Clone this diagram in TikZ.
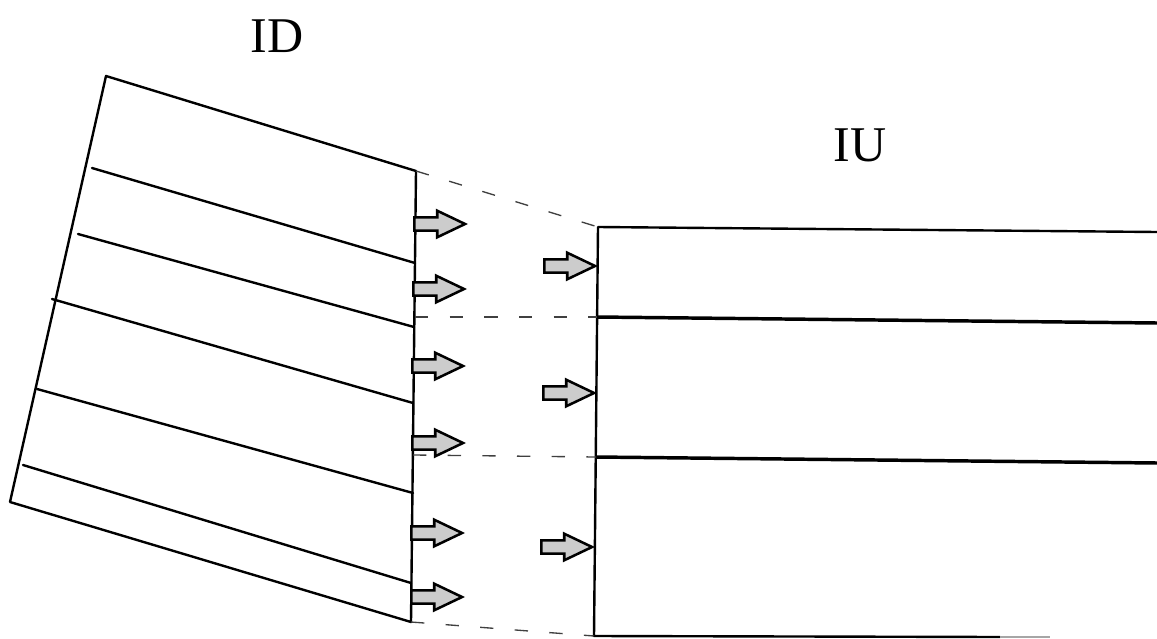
\documentclass[tikz,border=0pt]{standalone}
\usepackage{fontspec}
\setmainfont{Liberation Serif}
\usetikzlibrary{shapes.arrows}
\tikzset{
  edge/.style={line width=1.8pt, line cap=round, line join=round},
  thickedge/.style={line width=2.6pt},
  guide/.style={black!75, line width=1pt, dash pattern=on 10pt off 16pt},
  blockarrow/.style={shape=single arrow, draw=black, fill=gray!40, line width=1.9pt,
    inner xsep=0pt, inner ysep=4pt, single arrow head extend=5pt,
    single arrow tip angle=51, minimum height=38pt, anchor=tip},
  label/.style={font=\fontsize{37.5}{40}\selectfont, inner sep=0pt}
}
\begin{document}
\begin{tikzpicture}[x=0.75pt, y=-0.75pt]
\useasboundingbox (0,0) rectangle (1157,639);
% ID block corners
\coordinate (A) at (106,76);
\coordinate (B) at (416,171);
\coordinate (C) at (411,622);
\coordinate (D) at (10,502);
\draw[edge] (A) -- (B) -- (C) -- (D) -- cycle;
% interior strips of ID
\coordinate (l1a) at (92,168);  \coordinate (l1b) at (415,263);
\coordinate (l2a) at (78,234);  \coordinate (l2b) at (414,327);
\coordinate (l3a) at (52,299);  \coordinate (l3b) at (413,403);
\coordinate (l4a) at (37,389);  \coordinate (l4b) at (413,493);
\coordinate (l5a) at (23,465);  \coordinate (l5b) at (411,583);
\foreach \i in {1,...,5} \draw[edge] (l\i a) -- (l\i b);
% IU block
\coordinate (E) at (598,227);
\coordinate (F) at (594,636);
\coordinate (Er) at (1157,232);
\coordinate (m1a) at (597,317); \coordinate (m1b) at (1157,323);
\coordinate (m2a) at (596,457); \coordinate (m2b) at (1157,463);
\coordinate (Fr) at (1000,637);
\coordinate (Fe) at (1050,637);
\draw[edge] (Er) -- (E) -- (F) -- (Fr);
\draw[line width=1.8pt, black!35] (Fr) -- (Fe);
\draw[thickedge] (m1a) -- (m1b);
\draw[thickedge] (m2a) -- (m2b);
% dashed guides
\coordinate (g1) at (415,317);
\coordinate (g2) at (413,455);
\draw[guide] (B) -- (E);
\draw[guide] (g1) -- (m1a);
\draw[guide] (g2) -- (m2a);
\draw[guide] (C) -- (F);
% block arrows leaving ID
\node[blockarrow] (a1) at (468,224) {};
\node[blockarrow] (a2) at (467,289) {};
\node[blockarrow] (a3) at (466,366) {};
\node[blockarrow] (a4) at (466,443) {};
\node[blockarrow] (a5) at (465,533) {};
\node[blockarrow] (a6) at (465,597) {};
% block arrows entering IU
\node[blockarrow] (b1) at (598,266) {};
\node[blockarrow] (b2) at (597,393) {};
\node[blockarrow] (b3) at (595,547) {};
% labels
\node[label] (id) at (277,36) {ID};
\node[label] (iu) at (860,145) {IU};
\end{tikzpicture}
\end{document}
